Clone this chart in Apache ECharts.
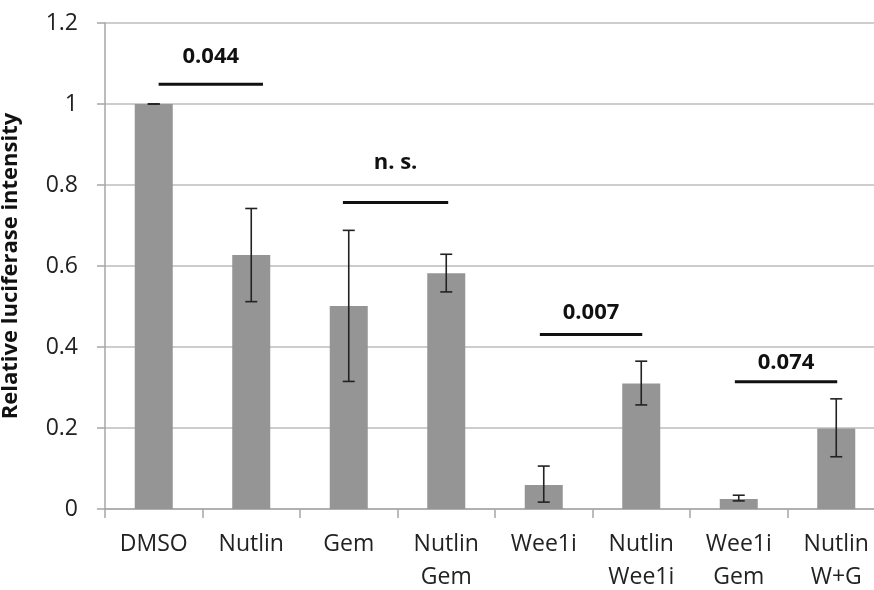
<!DOCTYPE html>
<html><head><meta charset="utf-8">
<script src="https://cdn.jsdelivr.net/npm/echarts@6/dist/echarts.min.js"></script>
<style>html,body{margin:0;padding:0;background:#fff;overflow:hidden}#c{width:874px;height:590px}</style>
</head><body><div id="c"></div>
<script>
const categories = ['DMSO','Nutlin','Gem','Nutlin\nGem','Wee1i','Nutlin\nWee1i','Wee1i\nGem','Nutlin\nW+G'];
const values    = [1.0, 0.627, 0.501, 0.582, 0.059, 0.310, 0.025, 0.199];
const errLow    = [1.0, 0.512, 0.315, 0.536, 0.017, 0.257, 0.020, 0.129];
const errHigh   = [1.0, 0.742, 0.688, 0.629, 0.106, 0.365, 0.034, 0.272];
const yTicks    = [0, 0.2, 0.4, 0.6, 0.8, 1, 1.2];
// significance brackets: x start/end in category-index units, bar level, label level, label
const bracketFrom   = [0.05, 1.94, 3.96, 5.96];
const bracketTo     = [1.12, 3.02, 5.01, 7.01];
const bracketY      = [1.049, 0.757, 0.431, 0.314];
const bracketLabelY = [1.117, 0.855, 0.484, 0.361];
const bracketLabel  = ['0.044', 'n. s.', '0.007', '0.074'];

const FONT = '"Open Sans", "Liberation Sans", sans-serif';
const chart = echarts.init(document.getElementById('c'), null, {renderer:'canvas'});

const errData = categories.map((c,i)=>[i, errLow[i], errHigh[i]]);
const brData = bracketFrom.map((f,i)=>[f, bracketTo[i], bracketY[i], bracketLabelY[i]]);

chart.setOption({
  animation:false,
  grid:{left:105, right:-11, top:23, bottom:81, containLabel:false, outerBoundsMode:'none'},
  xAxis:[{
    type:'category', data:categories, boundaryGap:true,
    axisLine:{onZero:false, lineStyle:{color:'#a6a6a6', width:1.5}},
    axisTick:{show:true, length:9, lineStyle:{color:'#a6a6a6', width:1.5}},
    axisLabel:{color:'#222', fontSize:23, fontFamily:FONT, margin:19, lineHeight:33, interval:0}
  },{
    type:'value', min:-0.5, max:7.5, show:false
  }],
  yAxis:{
    type:'value', min:0, max:1.2, interval:0.2,
    name:'Relative luciferase intensity', nameLocation:'middle', nameGap:83,
    nameTextStyle:{color:'#111', fontSize:22, fontWeight:'bold', fontFamily:FONT},
    axisLine:{show:true, onZero:false, lineStyle:{color:'#a6a6a6', width:1.5}},
    axisTick:{show:true, length:8, lineStyle:{color:'#a6a6a6', width:1.5}},
    splitLine:{lineStyle:{color:'#bdbdbd', width:1.5}},
    axisLabel:{color:'#222', fontSize:23, fontFamily:FONT, margin:27,
      formatter:v=>{ for(const t of yTicks){ if(Math.abs(t-v)<1e-9) return String(t);} return ''; }}
  },
  series:[{
    type:'bar', data:values, barWidth:38,
    itemStyle:{color:'#959595'}
  },{
    type:'custom', data:errData, z:10,
    renderItem:(params, api)=>{
      const x = api.value(0);
      const lo = api.coord([x, api.value(1)]);
      const hi = api.coord([x, api.value(2)]);
      const cw = 6;
      const st = {stroke:'#222', lineWidth:1.6};
      const ch = [
        {type:'line', shape:{x1:lo[0]-cw, y1:lo[1], x2:lo[0]+cw, y2:lo[1]}, style:st},
        {type:'line', shape:{x1:hi[0]-cw, y1:hi[1], x2:hi[0]+cw, y2:hi[1]}, style:st}
      ];
      if (Math.abs(lo[1]-hi[1]) > 0.5) ch.push({type:'line', shape:{x1:lo[0], y1:lo[1], x2:hi[0], y2:hi[1]}, style:st});
      return {type:'group', children:ch};
    }
  },{
    type:'custom', data:brData, xAxisIndex:1, z:10,
    renderItem:(params, api)=>{
      const a = api.coord([api.value(0), api.value(2)]);
      const b = api.coord([api.value(1), api.value(2)]);
      const t = api.coord([api.value(0), api.value(3)]);
      const label = bracketLabel[params.dataIndex];
      return {type:'group', children:[
        {type:'line', shape:{x1:a[0], y1:a[1], x2:b[0], y2:b[1]}, style:{stroke:'#111', lineWidth:3}},
        {type:'text', x:(a[0]+b[0])/2, y:t[1], style:{text:label, fill:'#111', font:'bold 22px '+FONT, align:'center', verticalAlign:'middle'}}
      ]};
    }
  }]
});
</script></body></html>
